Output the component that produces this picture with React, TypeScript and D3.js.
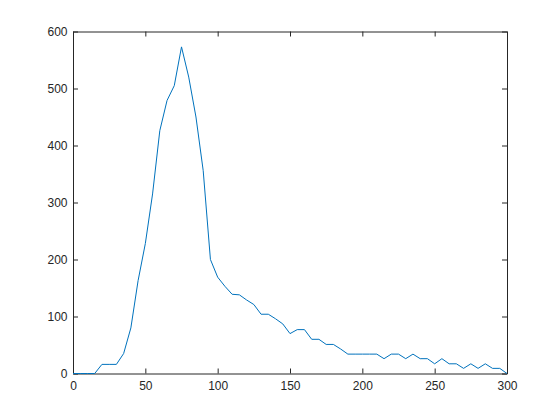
import React, { useEffect, useRef } from "react";
import * as d3 from "d3";

const xValues: number[] = d3.range(0, 301, 5);
const yValues: number[] = [
  0, 0, 0, 0, 16, 16, 16, 35, 80, 163,
  228, 315, 426, 479, 505, 573, 520, 450, 356, 200,
  169, 153, 139, 138, 129, 121, 104, 104, 96, 87,
  70, 77, 77, 60, 60, 51, 51, 43, 34, 34,
  34, 34, 34, 26, 34, 34, 26, 34, 26, 26,
  17, 26, 17, 17, 9, 17, 9, 17, 9, 9,
  0,
];
const xTicks: number[] = [0, 50, 100, 150, 200, 250, 300];
const yTicks: number[] = [0, 100, 200, 300, 400, 500, 600];

const W = 560;
const H = 420;
const M = { left: 73, right: 53, top: 31.5, bottom: 46.5 };

export default function App() {
  const ref = useRef<SVGGElement>(null);

  useEffect(() => {
    const g = d3.select(ref.current);
    g.selectAll("*").remove();
    const iw = W - M.left - M.right;
    const ih = H - M.top - M.bottom;
    const x = d3.scaleLinear().domain([0, 300]).range([0, iw]);
    const y = d3.scaleLinear().domain([0, 600]).range([ih, 0]);
    const tl = 5;
    const axisColor = "#262626";

    const style = (sel: any) => {
      sel.selectAll("path").attr("stroke", axisColor).attr("stroke-width", 1);
      sel.selectAll("line").attr("stroke", axisColor).attr("stroke-width", 1);
      sel
        .selectAll("text")
        .attr("fill", axisColor)
        .style("font-family", "Arial, 'Liberation Sans', sans-serif")
        .style("font-size", "12px");
    };

    g.append("g")
      .attr("transform", `translate(0,${ih})`)
      .call(d3.axisBottom(x).tickValues(xTicks).tickSizeInner(-tl).tickSizeOuter(0).tickPadding(8))
      .call(style);
    g.append("g")
      .call(d3.axisTop(x).tickValues(xTicks).tickSizeInner(-tl).tickSizeOuter(0).tickFormat(() => ""))
      .call(style);
    g.append("g")
      .call(d3.axisLeft(y).tickValues(yTicks).tickSizeInner(-tl).tickSizeOuter(0).tickPadding(5.5))
      .call(style);
    g.append("g")
      .attr("transform", `translate(${iw},0)`)
      .call(d3.axisRight(y).tickValues(yTicks).tickSizeInner(-tl).tickSizeOuter(0).tickFormat(() => ""))
      .call(style);

    const line = d3
      .line<number>()
      .x((_, i) => x(xValues[i]))
      .y((d) => y(d));
    g.append("path")
      .datum(yValues)
      .attr("d", line)
      .attr("fill", "none")
      .attr("stroke", "#0072BD")
      .attr("stroke-width", 1);
  }, []);

  return (
    <svg
      width={W}
      height={H}
      style={{ position: "fixed", left: 0, top: 0, background: "#ffffff" }}
    >
      <rect width={W} height={H} fill="#ffffff" />
      <g ref={ref} transform={`translate(${M.left},${M.top})`} />
    </svg>
  );
}
